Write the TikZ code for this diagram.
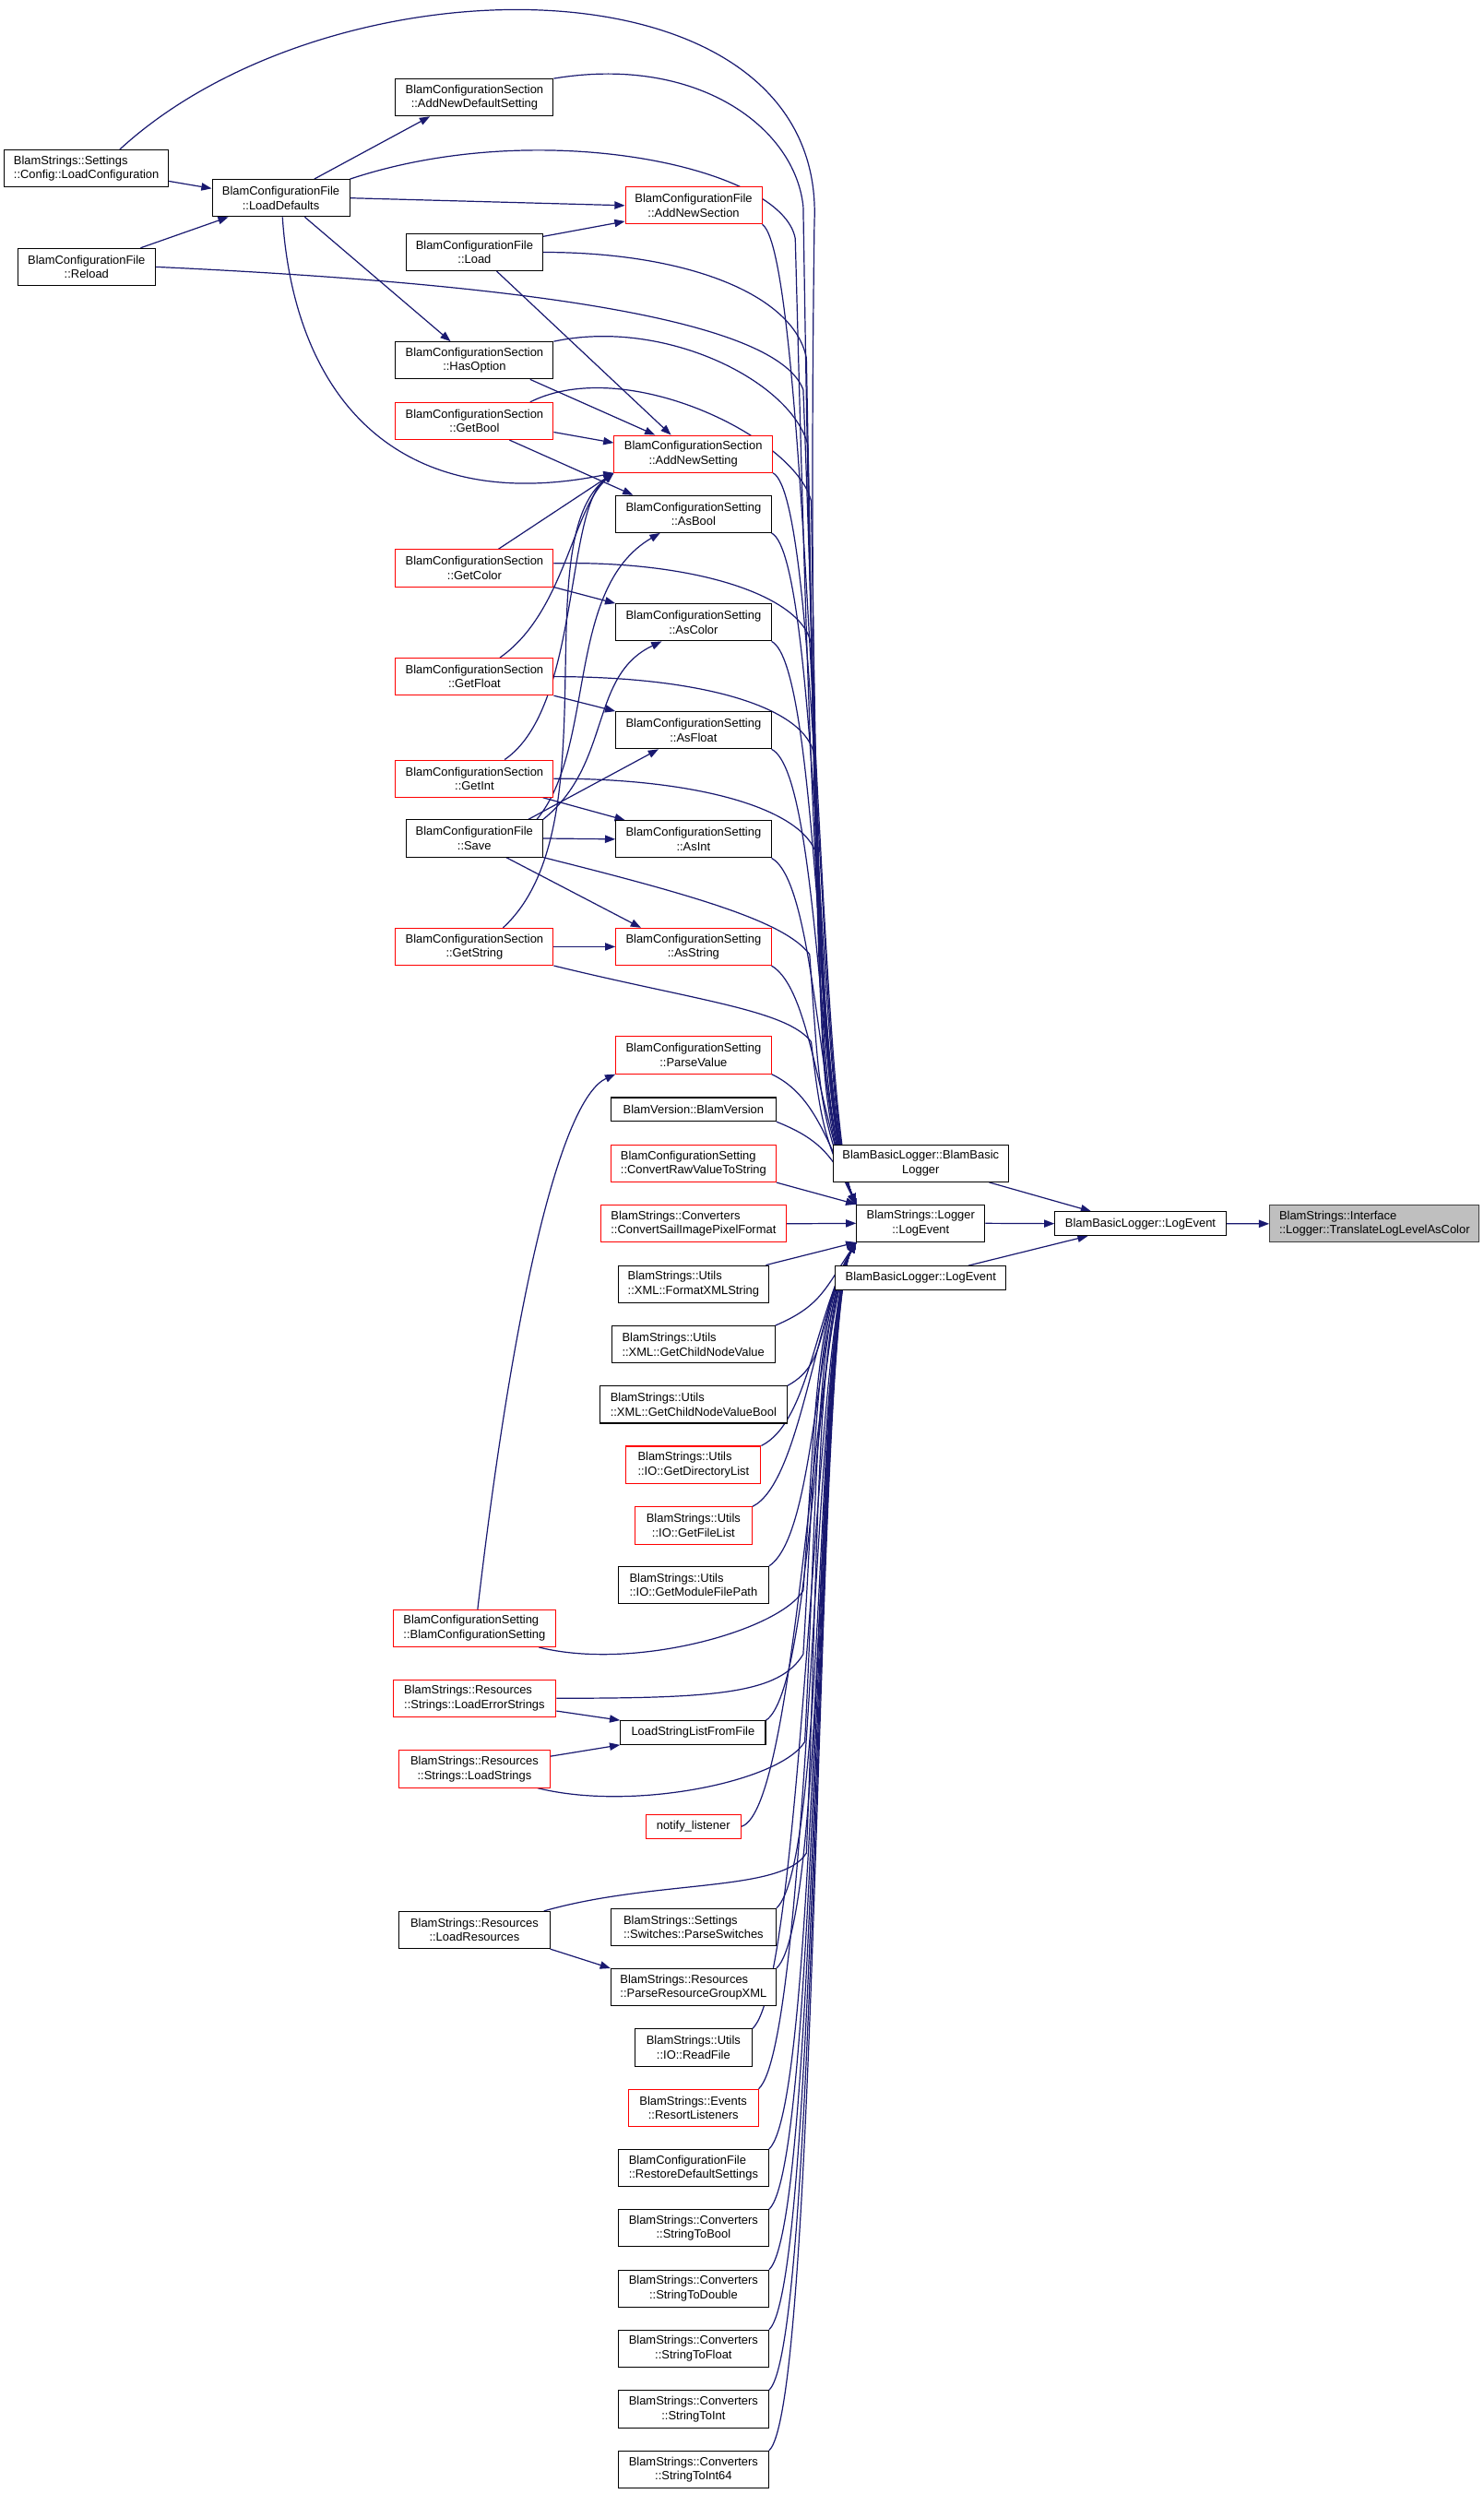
\documentclass[tikz,border=0pt]{standalone}
\usepackage{fontspec}
\setmainfont{Liberation Sans}
\usetikzlibrary{arrows.meta,backgrounds}
\definecolor{edgeblue}{HTML}{191970}
\definecolor{tgtgray}{HTML}{BFBFBF}
\begin{document}
\begin{tikzpicture}[x=1pt,y=-1pt,
  fn/.style={draw=black,fill=white,line width=0.6pt,font=\fontsize{7.5pt}{9pt}\selectfont,inner xsep=0pt,inner ysep=0pt,minimum height=23.3pt,align=center},
  fr/.style={fn,draw=red},
  one/.style={minimum height=14.9pt},
  lft/.style={align=left},
  e/.style={draw=edgeblue,line width=0.7pt,-{Triangle[length=6.5pt,width=4.8pt]}}]
\path[use as bounding box] (0,0) rectangle (933,1568);
\node[fn,lft,minimum width=103pt] (loadcfg) at (54.3,105.9) {BlamStrings::Settings\\::Config::LoadConfiguration};
\node[fn,minimum width=86.4pt] (reload) at (54.4,167.8) {BlamConfigurationFile\\::Reload};
\node[fn,minimum width=86.4pt] (loaddef) at (176.6,124.5) {BlamConfigurationFile\\::LoadDefaults};
\node[fn,minimum width=99.2pt] (adddef) at (298.3,61.3) {BlamConfigurationSection\\::AddNewDefaultSetting};
\node[fn,minimum width=86pt] (load) at (298.3,158.6) {BlamConfigurationFile\\::Load};
\node[fn,minimum width=99.2pt] (hasopt) at (298.3,226.6) {BlamConfigurationSection\\::HasOption};
\node[fr,minimum width=99.2pt] (getbool) at (298.3,264.7) {BlamConfigurationSection\\::GetBool};
\node[fr,minimum width=99.2pt] (getcolor) at (298.3,357.2) {BlamConfigurationSection\\::GetColor};
\node[fr,minimum width=99.2pt] (getfloat) at (298.3,425.4) {BlamConfigurationSection\\::GetFloat};
\node[fr,minimum width=99.2pt] (getint) at (298.3,489.5) {BlamConfigurationSection\\::GetInt};
\node[fn,minimum width=86pt] (save) at (298.2,527.1) {BlamConfigurationFile\\::Save};
\node[fr,minimum width=99.2pt] (getstring) at (298.3,595.2) {BlamConfigurationSection\\::GetString};
\node[fr,lft,minimum width=102.5pt] (ctorset) at (298.3,1023.7) {BlamConfigurationSetting\\::BlamConfigurationSetting};
\node[fr,lft,minimum width=102.5pt] (loaderr) at (298.3,1067.7) {BlamStrings::Resources\\::Strings::LoadErrorStrings};
\node[fr,minimum width=94.7pt] (loadstr) at (298.3,1112.2) {BlamStrings::Resources\\::Strings::LoadStrings};
\node[fn,minimum width=94.7pt] (loadres) at (298.3,1213.4) {BlamStrings::Resources\\::LoadResources};
\node[fr,minimum width=85.8pt] (addsec) at (436.1,129.2) {BlamConfigurationFile\\::AddNewSection};
\node[fr,minimum width=99.5pt] (addset) at (435.9,285.4) {BlamConfigurationSection\\::AddNewSetting};
\node[fn,minimum width=97.6pt] (asbool) at (436,323.2) {BlamConfigurationSetting\\::AsBool};
\node[fn,minimum width=97.6pt] (ascolor) at (436,391.3) {BlamConfigurationSetting\\::AsColor};
\node[fn,minimum width=97.6pt] (asfloat) at (436,459.1) {BlamConfigurationSetting\\::AsFloat};
\node[fn,minimum width=97.6pt] (asint) at (436,527.6) {BlamConfigurationSetting\\::AsInt};
\node[fr,minimum width=97.6pt] (asstring) at (436,595.2) {BlamConfigurationSetting\\::AsString};
\node[fr,minimum width=97.6pt] (parseval) at (436,663.4) {BlamConfigurationSetting\\::ParseValue};
\node[fn,one,minimum width=103.8pt] (version) at (436,697.5) {BlamVersion::BlamVersion};
\node[fr,lft,minimum width=103.8pt] (convraw) at (436,731.5) {BlamConfigurationSetting\\::ConvertRawValueToString};
\node[fr,lft,minimum width=116.3pt] (convsail) at (436,769.4) {BlamStrings::Converters\\::ConvertSailImagePixelFormat};
\node[fn,lft,minimum width=94.5pt] (fmtxml) at (436,807.3) {BlamStrings::Utils\\::XML::FormatXMLString};
\node[fn,lft,minimum width=102.5pt] (childval) at (435.9,845.3) {BlamStrings::Utils\\::XML::GetChildNodeValue};
\node[fn,lft,minimum width=117.7pt] (childbool) at (436,883.1) {BlamStrings::Utils\\::XML::GetChildNodeValueBool};
\node[fr,lft,minimum width=84.7pt] (dirlist) at (436,920.9) {BlamStrings::Utils\\::IO::GetDirectoryList};
\node[fr,minimum width=73.7pt] (filelist) at (436,959.1) {BlamStrings::Utils\\::IO::GetFileList};
\node[fn,lft,minimum width=94.5pt] (modpath) at (436,996.5) {BlamStrings::Utils\\::IO::GetModuleFilePath};
\node[fn,one,minimum width=91.2pt] (strlist) at (435.7,1089.3) {LoadStringListFromFile};
\node[fr,one,minimum width=59.9pt] (notify) at (435.9,1148.3) {notify\_listener};
\node[fn,lft,minimum width=103.8pt] (switches) at (436,1211.6) {BlamStrings::Settings\\::Switches::ParseSwitches};
\node[fn,lft,minimum width=103.8pt] (resxml) at (436,1249.4) {BlamStrings::Resources\\::ParseResourceGroupXML};
\node[fn,minimum width=73.7pt] (readfile) at (436,1287.3) {BlamStrings::Utils\\::IO::ReadFile};
\node[fr,minimum width=81.6pt] (resort) at (435.9,1325.2) {BlamStrings::Events\\::ResortListeners};
\node[fn,lft,minimum width=94.5pt] (restore) at (436,1363) {BlamConfigurationFile\\::RestoreDefaultSettings};
\node[fn,minimum width=94.5pt] (strbool) at (436,1400.9) {BlamStrings::Converters\\::StringToBool};
\node[fn,minimum width=94.5pt] (strdouble) at (436,1438.9) {BlamStrings::Converters\\::StringToDouble};
\node[fn,minimum width=94.5pt] (strfloat) at (436,1476.6) {BlamStrings::Converters\\::StringToFloat};
\node[fn,minimum width=94.5pt] (strint) at (436,1514.6) {BlamStrings::Converters\\::StringToInt};
\node[fn,minimum width=94.5pt] (strint64) at (436,1552.6) {BlamStrings::Converters\\::StringToInt64};
\node[fn,minimum width=110pt] (ctorlog) at (578.9,731.4) {BlamBasicLogger::BlamBasic\\Logger};
\node[fn,minimum width=80.6pt] (logger) at (578.9,769.1) {BlamStrings::Logger\\::LogEvent};
\node[fn,one,minimum width=107.4pt] (basiclow) at (578.9,803.4) {BlamBasicLogger::LogEvent};
\node[fn,one,minimum width=107.5pt] (basiclog) at (717,769.3) {BlamBasicLogger::LogEvent};
\node[fn,lft,fill=tgtgray,draw=black!75,minimum width=131.8pt] (target) at (864.2,769.4) {BlamStrings::Interface\\::Logger::TranslateLogLevelAsColor};
\begin{scope}[on background layer]
\fill[white] (0,0) rectangle (933,1568);
\draw[e] ([yshift=-8pt]loadcfg.east) -- ([yshift=6pt]loaddef.west);
\draw[e] ([xshift=34pt]reload.north) -- ([xshift=-33pt]loaddef.south);
\draw[e] ([xshift=21pt]loaddef.north) -- ([xshift=-28pt]adddef.south);
\draw[e] (loaddef.east) -- (addsec.west);
\draw[e] ([yshift=-2pt]load.north east) -- ([yshift=2pt]addsec.south west);
\draw[e] ([xshift=15pt]loaddef.south) -- ([xshift=-15pt]hasopt.north);
\draw[e] ([xshift=1pt]loaddef.south) .. controls (185,250) and (250,325) .. (addset.south west);
\draw[e] ([xshift=14pt]load.south) -- ([xshift=-14pt]addset.north);
\draw[e] ([xshift=35pt]hasopt.south) -- ([xshift=-24pt]addset.north);
\draw[e] ([yshift=-7pt]getbool.east) -- ([yshift=7pt]addset.west);
\draw[e] ([xshift=22pt]getbool.south) -- ([xshift=-38pt]asbool.north);
\draw[e] ([xshift=15pt]getcolor.north) -- (addset.south west);
\draw[e] (getcolor.south east) -- (ascolor.north west);
\draw[e] ([xshift=16pt]getfloat.north) .. controls (355,385) and (360,320) .. (addset.south west);
\draw[e] (getfloat.south east) -- (asfloat.north west);
\draw[e] ([xshift=19pt]getint.north) .. controls (365,445) and (355,320) .. (addset.south west);
\draw[e] ([xshift=43pt]getint.south) -- ([xshift=-43pt]asint.north);
\draw[e] ([xshift=34pt]save.north) -- ([xshift=-22pt]asfloat.south);
\draw[e] (save.east) -- (asint.west);
\draw[e] ([xshift=20pt]save.south) -- ([xshift=-33pt]asstring.north);
\draw[e] ([xshift=-4pt]save.north east) .. controls (375,470) and (355,370) .. ([xshift=-21pt]asbool.south);
\draw[e] (save.north east) .. controls (385,480) and (370,425) .. ([xshift=-20pt]ascolor.south);
\draw[e] (getstring.east) -- (asstring.west);
\draw[e] ([xshift=18pt]getstring.north) .. controls (385,520) and (330,340) .. (addset.south west);
\draw[e] ([xshift=2pt]ctorset.north) .. controls (325,800) and (355,690) .. (parseval.south west);
\draw[e] ([yshift=-8pt]loaderr.east) -- (strlist.north west);
\draw[e] ([yshift=8pt]loadstr.east) -- (strlist.south west);
\draw[e] (loadres.south east) -- (resxml.north west);
\draw[e] (logger.east) -- (basiclog.west);
\draw[e] ([xshift=43pt]ctorlog.south) -- ([xshift=-31pt]basiclog.north);
\draw[e] ([xshift=30pt]basiclow.north) -- ([xshift=-33pt]basiclog.south);
\draw[e] (basiclog.east) -- (target.west);
\draw[e] ([xshift=21pt]loadcfg.north) .. controls (210,-30) and (520,-30) .. (512,140) .. controls +(-4,300) and +(-24,-55) .. (logger.north west);
\draw[e] (adddef.north east) .. controls +(90,-15) and +(-5,-50) .. (505,130) .. controls +(5,310) and +(-24,-55) .. (logger.north west);
\draw[e] (loaddef.north east) .. controls +(120,-40) and +(-8,-45) .. (500,150) .. controls +(8,300) and +(-24,-55) .. (logger.north west);
\draw[e] (load.east) .. controls +(90,0) and +(-8,-40) .. (507,225) .. controls +(5,265) and +(-24,-55) .. (logger.north west);
\draw[e] (reload.east) .. controls +(260,12) and +(-15,-40) .. (505,245) .. controls +(10,255) and +(-24,-55) .. (logger.north west);
\draw[e] (addsec.south east) .. controls +(30,20) and +(-24,-55) .. (logger.north west);
\draw[e] (hasopt.north east) .. controls +(70,-15) and +(-10,-40) .. (508,280) .. controls +(4,240) and +(-24,-55) .. (logger.north west);
\draw[e] ([xshift=35pt]getbool.north) .. controls +(60,-30) and +(-10,-40) .. (510,315) .. controls +(4,220) and +(-24,-55) .. (logger.north west);
\draw[e] (addset.south east) .. controls +(30,15) and +(-24,-55) .. (logger.north west);
\draw[e] (asbool.south east) .. controls +(30,15) and +(-24,-55) .. (logger.north west);
\draw[e] ([yshift=3pt]getcolor.east) .. controls +(90,-2) and +(-5,-30) .. (510,405) .. controls +(4,175) and +(-24,-55) .. (logger.north west);
\draw[e] (ascolor.south east) .. controls +(30,15) and +(-24,-55) .. (logger.north west);
\draw[e] (getfloat.east) .. controls +(95,0) and +(-5,-30) .. (512,475) .. controls +(3,140) and +(-24,-55) .. (logger.north west);
\draw[e] (asfloat.south east) .. controls +(30,15) and +(-24,-55) .. (logger.north west);
\draw[e] (getint.east) .. controls +(95,0) and +(-5,-30) .. (514,540) .. controls +(3,110) and +(-24,-55) .. (logger.north west);
\draw[e] (asint.south east) .. controls +(28,15) and +(-24,-55) .. (logger.north west);
\draw[e] (save.south east) .. controls +(100,25) and +(-15,-20) .. (509,600) .. controls +(6,80) and +(-24,-55) .. (logger.north west);
\draw[e] (asstring.south east) .. controls +(25,15) and +(-24,-55) .. (logger.north west);
\draw[e] (getstring.south east) .. controls +(90,22) and +(-15,-20) .. (510,655) .. controls +(6,50) and +(-20,-40) .. (logger.north west);
\draw[e] (parseval.south east) .. controls +(25,12) and +(-20,-45) .. (logger.north west);
\draw[e] (version.south east) .. controls +(25,10) and +(-15,-32) .. (logger.north west);
\draw[e] (convraw.south east) -- (logger.north west);
\draw[e] (convsail.east) -- (logger.west);
\draw[e] ([xshift=-2pt]fmtxml.north east) -- (logger.south west);
\draw[e] (childval.north east) .. controls +(28,-12) and +(-20,30) .. (logger.south west);
\draw[e] (childbool.north east) .. controls +(28,-15) and +(-26,45) .. (logger.south west);
\draw[e] (dirlist.north east) .. controls +(30,-15) and +(-26,45) .. (logger.south west);
\draw[e] (filelist.north east) .. controls +(30,-15) and +(-26,45) .. (logger.south west);
\draw[e] (modpath.north east) .. controls +(30,-20) and +(-26,45) .. (logger.south west);
\draw[e] ([xshift=-11pt]ctorset.south east) .. controls +(60,15) and +(-15,25) .. (505,1000) .. controls +(8,-110) and +(-26,45) .. (logger.south west);
\draw[e] (loaderr.east) .. controls +(100,0) and +(-15,25) .. (505,1040) .. controls +(8,-130) and +(-26,45) .. (logger.south west);
\draw[e] (strlist.north east) .. controls +(30,-20) and +(-26,45) .. (logger.south west);
\draw[e] ([xshift=-8pt]loadstr.south east) .. controls +(60,15) and +(-15,25) .. (506,1095) .. controls +(8,-155) and +(-26,45) .. (logger.south west);
\draw[e] (notify.east) .. controls +(35,-10) and +(-26,45) .. (logger.south west);
\draw[e] ([xshift=-4pt]loadres.north east) .. controls +(70,-20) and +(-15,25) .. (507,1165) .. controls +(8,-190) and +(-26,45) .. (logger.south west);
\draw[e] (switches.north east) .. controls +(32,-30) and +(-26,45) .. (logger.south west);
\draw[e] (resxml.north east) .. controls +(32,-30) and +(-26,45) .. (logger.south west);
\draw[e] (readfile.north east) .. controls +(32,-30) and +(-26,45) .. (logger.south west);
\draw[e] (resort.north east) .. controls +(32,-30) and +(-26,45) .. (logger.south west);
\draw[e] (restore.north east) .. controls +(32,-30) and +(-26,45) .. (logger.south west);
\draw[e] (strbool.north east) .. controls +(32,-30) and +(-26,45) .. (logger.south west);
\draw[e] (strdouble.north east) .. controls +(32,-30) and +(-26,45) .. (logger.south west);
\draw[e] (strfloat.north east) .. controls +(32,-30) and +(-26,45) .. (logger.south west);
\draw[e] (strint.north east) .. controls +(32,-30) and +(-26,45) .. (logger.south west);
\draw[e] (strint64.north east) .. controls +(32,-30) and +(-26,45) .. (logger.south west);
\end{scope}
\end{tikzpicture}
\end{document}
